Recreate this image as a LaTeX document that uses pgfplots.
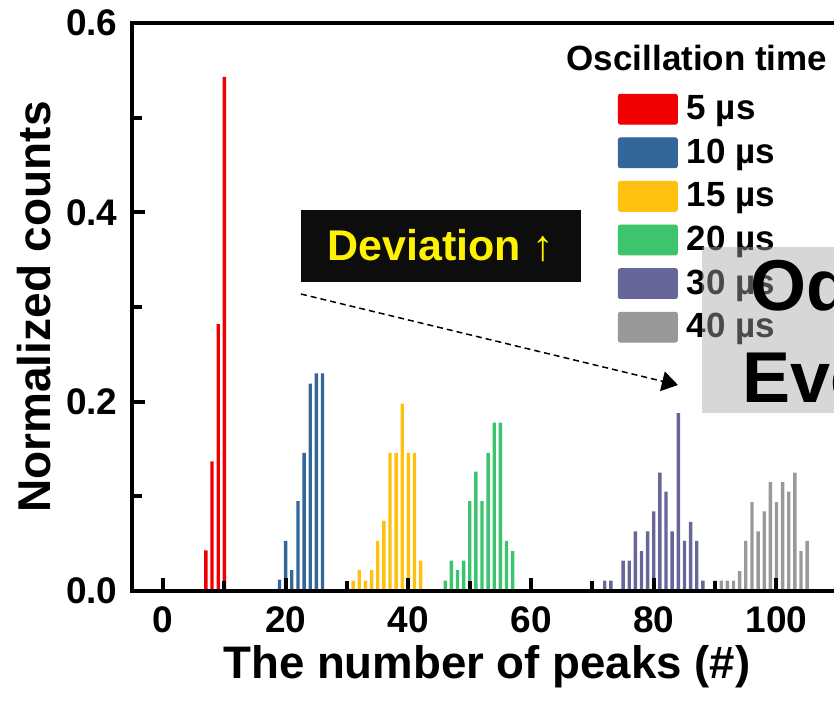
\documentclass[border=0pt]{standalone}
\usepackage{fontspec}
\setmainfont{Liberation Sans}
\usepackage{pgfplots}
\pgfplotsset{compat=1.18}
\usetikzlibrary{arrows.meta}
\definecolor{cRed}{RGB}{240,0,0}
\definecolor{cBlue}{RGB}{51,102,153}
\definecolor{cYel}{RGB}{255,192,16}
\definecolor{cGrn}{RGB}{60,196,110}
\definecolor{cPur}{RGB}{102,102,153}
\definecolor{cGry}{RGB}{153,153,153}
\definecolor{boxg}{gray}{0.65}
\begin{document}
\begin{tikzpicture}
\useasboundingbox (-66.15pt,-61pt) rectangle (350.85pt,295.5pt);
\clip (-66.15pt,-61pt) rectangle (350.85pt,295.5pt);
\begin{axis}[
 at={(0pt,0pt)}, anchor=south west,
 scale only axis, width=368.1pt, height=284pt,
 xmin=-5, xmax=115, ymin=0, ymax=0.6,
 axis on top, clip=false,
 axis line style={line width=2pt, black},
 tick style={line width=2pt, black},
 tick align=inside, tick pos=left,
 major tick length=6.5pt, minor tick length=5pt,
 xtick={0,20,40,60,80,100}, minor xtick={10,30,50,70,90,110},
 ytick={0,0.2,0.4,0.6}, minor ytick={0.1,0.3,0.5},
 /pgf/number format/assume math mode=true,
 tick label style={font=\fontsize{18.5}{21}\selectfont\bfseries, inner sep=0pt},
 xticklabel style={anchor=north, yshift=-7.5pt},
 yticklabel style={anchor=east, xshift=-7.2pt, /pgf/number format/fixed, /pgf/number format/fixed zerofill, /pgf/number format/precision=1},
 legend cell align=left,
 legend style={draw=none, fill=none, inner sep=0pt, outer sep=0pt,
   nodes={inner sep=0pt}, column sep=4.5pt, row sep=6.4pt,
   at={(0.6597,0.8754)}, anchor=north west,
   font=\fontsize{17.5}{20}\selectfont\bfseries},
]
\addplot[ybar, bar width=0.55, bar shift=0pt, fill=cRed, draw=none, forget plot] coordinates {
 (7,0.043) (8,0.137) (9,0.282) (10,0.543)};
\addplot[ybar, bar width=0.55, bar shift=0pt, fill=cBlue, draw=none, forget plot] coordinates {
 (19,0.012) (20,0.053) (21,0.022) (22,0.095) (23,0.146) (24,0.219) (25,0.230) (26,0.230)};
\addplot[ybar, bar width=0.55, bar shift=0pt, fill=cYel, draw=none, forget plot] coordinates {
 (31,0.011) (32,0.022) (33,0.011) (34,0.022) (35,0.053) (36,0.074) (37,0.146) (38,0.146)
 (39,0.198) (40,0.146) (41,0.146) (42,0.032)};
\addplot[ybar, bar width=0.55, bar shift=0pt, fill=cGrn, draw=none, forget plot] coordinates {
 (46,0.011) (47,0.032) (48,0.022) (49,0.032) (50,0.095) (51,0.126) (52,0.095) (53,0.146)
 (54,0.178) (55,0.178) (56,0.053) (57,0.042)};
\addplot[ybar, bar width=0.55, bar shift=0pt, fill=cPur, draw=none, forget plot] coordinates {
 (72,0.011) (73,0.011) (75,0.032) (76,0.032) (77,0.063) (78,0.042) (79,0.063) (80,0.084)
 (81,0.125) (82,0.105) (83,0.063) (84,0.188) (85,0.053) (86,0.073) (87,0.053) (88,0.011)};
\addplot[ybar, bar width=0.55, bar shift=0pt, fill=cGry, draw=none, forget plot] coordinates {
 (90,0.011) (91,0.011) (92,0.011) (93,0.011) (94,0.021) (95,0.053) (96,0.094) (97,0.063)
 (98,0.084) (99,0.115) (100,0.094) (101,0.115) (102,0.105) (103,0.125) (104,0.042) (105,0.053)};

\addlegendimage{legend image code/.code={\fill[cRed, rounded corners=1pt] (0pt,-7.5pt) rectangle (29.5pt,7.5pt);}}
\addlegendentry{5 µs}
\addlegendimage{legend image code/.code={\fill[cBlue, rounded corners=1pt] (0pt,-7.5pt) rectangle (29.5pt,7.5pt);}}
\addlegendentry{10 µs}
\addlegendimage{legend image code/.code={\fill[cYel, rounded corners=1pt] (0pt,-7.5pt) rectangle (29.5pt,7.5pt);}}
\addlegendentry{15 µs}
\addlegendimage{legend image code/.code={\fill[cGrn, rounded corners=1pt] (0pt,-7.5pt) rectangle (29.5pt,7.5pt);}}
\addlegendentry{20 µs}
\addlegendimage{legend image code/.code={\fill[cPur, rounded corners=1pt] (0pt,-7.5pt) rectangle (29.5pt,7.5pt);}}
\addlegendentry{30 µs}
\addlegendimage{legend image code/.code={\fill[cGry, rounded corners=1pt] (0pt,-7.5pt) rectangle (29.5pt,7.5pt);}}
\addlegendentry{40 µs}

\node[anchor=base, inner sep=0pt, font=\fontsize{17.5}{20}\selectfont\bfseries] at (axis cs:87.04,0.5503) {Oscillation time};
\node[fill=black!95, minimum width=140pt, minimum height=35.85pt, inner sep=0pt, text=yellow,
  font=\fontsize{21.5}{24}\selectfont\bfseries] at (axis cs:45.31,0.3644) {Deviation {\mdseries ↑}};
\draw[black, line width=0.75pt, dash pattern=on 3pt off 2pt, -{Triangle[length=8pt,width=10pt]}]
  (axis cs:22.49,0.3137) -- (axis cs:83.94,0.2176);
\node[anchor=base, inner sep=0pt, font=\fontsize{22.8}{26}\selectfont\bfseries] at (axis cs:52.8,-0.0919) {The number of peaks (\#)};
\node[rotate=90, inner sep=0pt, font=\fontsize{23}{26}\selectfont\bfseries] at (axis cs:-21.0,0.3) {Normalized counts};
\coordinate (bA) at (axis cs:87.86,0.3634);
\coordinate (bB) at (axis cs:127.6,0.188);
\coordinate (tOdd) at (axis cs:95.68,0.2968);
\coordinate (tEven) at (axis cs:94.38,0.1986);
\end{axis}
\fill[boxg, fill opacity=0.45] (bA) rectangle (bB);
\node[anchor=base west, inner sep=0pt, font=\fontsize{36}{40}\selectfont\bfseries] at (tOdd) {Odd};
\node[anchor=base west, inner sep=0pt, font=\fontsize{36}{40}\selectfont\bfseries] at (tEven) {Even};
\end{tikzpicture}
\end{document}
